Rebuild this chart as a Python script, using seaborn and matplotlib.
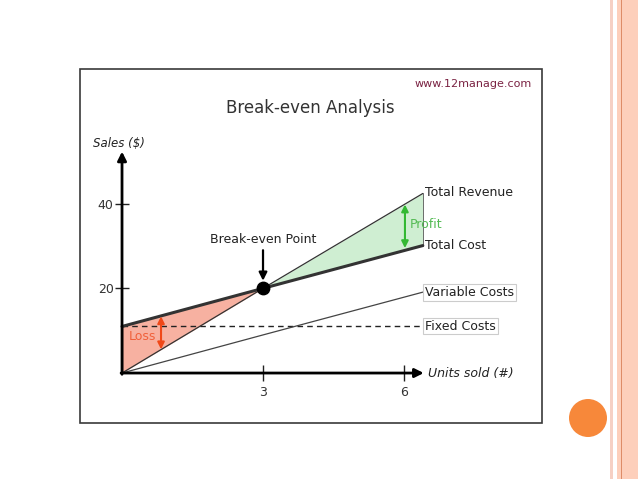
import pandas as pd
import seaborn as sns
import matplotlib.pyplot as plt
from matplotlib.patches import Rectangle, Ellipse

# values
units = [0, 3, 6.4]
revenue = [0, 20, 42.4]
total_cost = [11, 20, 30.1]
variable_costs = [0, 9, 19.1]
fixed_costs = [11, 11, 11]
x_ticks = [3, 6]
y_ticks = [20, 40]
break_even = (3, 20)


def draw_break_even():
    sns.set_theme(style="white")
    plt.rcParams["font.family"] = ["DejaVu Sans"]

    fig = plt.figure(figsize=(6.38, 4.79), dpi=100)
    fig.patch.set_facecolor("white")

    # slide decoration (right stripes, orange dot)
    fig.add_artist(Rectangle((610 / 638, 0), 3 / 638, 1, transform=fig.transFigure,
                             color="#f6d0c4", lw=0))
    fig.add_artist(Rectangle((617 / 638, 0), 21 / 638, 1, transform=fig.transFigure,
                             color="#fdcfbb", lw=0))
    fig.add_artist(Rectangle((621 / 638, 0), 1.3 / 638, 1, transform=fig.transFigure,
                             color="#de8c68", lw=0))
    fig.add_artist(Ellipse((588 / 638, 1 - 418 / 479), 38 / 638, 38 / 479,
                           transform=fig.transFigure, color="#f7883a", lw=0))

    # chart frame
    fig.add_artist(Rectangle((80 / 638, 56 / 479), 462 / 638, 354 / 479,
                             transform=fig.transFigure, fill=False,
                             edgecolor="#3a3a3a", lw=1.2))

    ax = fig.add_axes([80 / 638, 56 / 479, 462 / 638, 354 / 479])
    ax.set_facecolor("none")
    ax.set_xlim(-0.894, 8.936)
    ax.set_ylim(-11.8, 71.8)

    df = pd.DataFrame({
        "units": units,
        "revenue": revenue,
        "total_cost": total_cost,
        "variable_costs": variable_costs,
        "fixed_costs": fixed_costs,
    })

    # loss / profit areas
    ax.fill_between(df["units"][:2], df["revenue"][:2], df["total_cost"][:2],
                    color="#f7b1a1", lw=0, zorder=1)
    ax.fill_between(df["units"][1:], df["revenue"][1:], df["total_cost"][1:],
                    color="#cfeed2", lw=0, zorder=1)
    ax.plot([0, 0], [0, 11], color="#222222", lw=1, zorder=2)
    ax.plot([6.4, 6.4], [30.1, 42.4], color="#555555", lw=0.6, zorder=2)

    sns.lineplot(data=df, x="units", y="fixed_costs", ax=ax, color="#222222",
                 lw=1, linestyle=(0, (4, 3)), zorder=3)
    sns.lineplot(data=df, x="units", y="variable_costs", ax=ax, color="#444444",
                 lw=0.9, zorder=3)
    sns.lineplot(data=df, x="units", y="revenue", ax=ax, color="#333333",
                 lw=0.9, zorder=3)
    sns.lineplot(data=df, x="units", y="total_cost", ax=ax, color="#333333",
                 lw=2.2, zorder=4)
    ax.scatter([break_even[0]], [break_even[1]], s=80, color="black", zorder=6)

    # axes with arrows
    for s in ax.spines.values():
        s.set_visible(False)
    ax.spines["left"].set_position(("data", 0))
    ax.spines["bottom"].set_position(("data", 0))
    ax.annotate("", xy=(0, 52.3), xytext=(0, -0.3),
                arrowprops=dict(arrowstyle="-|>", color="black", lw=2,
                                mutation_scale=13, shrinkA=0, shrinkB=0), zorder=7)
    ax.annotate("", xy=(6.42, 0), xytext=(-0.02, 0),
                arrowprops=dict(arrowstyle="-|>", color="black", lw=2,
                                mutation_scale=13, shrinkA=0, shrinkB=0), zorder=7)
    ax.set_xticks(x_ticks)
    ax.set_yticks(y_ticks)
    ax.set_xticklabels([str(v) for v in x_ticks])
    ax.set_yticklabels([str(v) for v in y_ticks])
    ax.tick_params(axis="x", direction="inout", length=11, width=1, color="#222222",
                   labelsize=9, pad=4, bottom=True, labelcolor="#333333")
    ax.tick_params(axis="y", direction="inout", length=10, width=1, color="#222222",
                   labelsize=9, pad=1, left=True, labelcolor="#333333")
    ax.set_xlabel("")
    ax.set_ylabel("")

    # texts
    ax.text(4.0, 62.6, "Break-even Analysis", ha="center", va="center",
            fontsize=12, color="#333333")
    ax.text(8.72, 68.3, "www.12manage.com", ha="right", va="center",
            fontsize=8, color="#7a2242")
    ax.text(-0.62, 54.3, "Sales ($)", ha="left", va="center", fontsize=8.5,
            style="italic", color="#222222")
    ax.text(6.5, -0.2, "Units sold (#)", ha="left", va="center", fontsize=9,
            style="italic", color="#222222")

    ax.text(6.45, 42.7, "Total Revenue", ha="left", va="center", fontsize=9,
            color="#222222")
    ax.text(6.45, 30.2, "Total Cost", ha="left", va="center", fontsize=9,
            color="#222222")
    box = dict(boxstyle="square,pad=0.15", facecolor="white", edgecolor="#cccccc", lw=0.8)
    ax.text(6.45, 19.1, "Variable Costs", ha="left", va="center", fontsize=9,
            color="#222222", bbox=box)
    ax.text(6.45, 11.1, "Fixed Costs", ha="left", va="center", fontsize=9,
            color="#222222", bbox=box)

    ax.text(3, 31.6, "Break-even Point", ha="center", va="center", fontsize=9,
            color="#222222")
    ax.annotate("", xy=(3, 21.8), xytext=(3, 29.0),
                arrowprops=dict(arrowstyle="-|>", color="black", lw=1.6,
                                mutation_scale=12, shrinkA=0, shrinkB=0))

    ax.annotate("", xy=(0.83, 5.6), xytext=(0.83, 13.4),
                arrowprops=dict(arrowstyle="<|-|>", color="#f04818", lw=1.5,
                                mutation_scale=10, shrinkA=0, shrinkB=0), zorder=5)
    ax.text(0.43, 8.7, "Loss", ha="center", va="center", fontsize=9,
            color="#f0603a", zorder=5)

    ax.annotate("", xy=(6.02, 39.8), xytext=(6.02, 29.5),
                arrowprops=dict(arrowstyle="<|-|>", color="#33b833", lw=1.5,
                                mutation_scale=10, shrinkA=0, shrinkB=0), zorder=5)
    ax.text(6.12, 35.0, "Profit", ha="left", va="center", fontsize=9,
            color="#55bb55", zorder=5)

    fig.savefig("out.png", dpi=100)


if __name__ == "__main__":
    draw_break_even()
